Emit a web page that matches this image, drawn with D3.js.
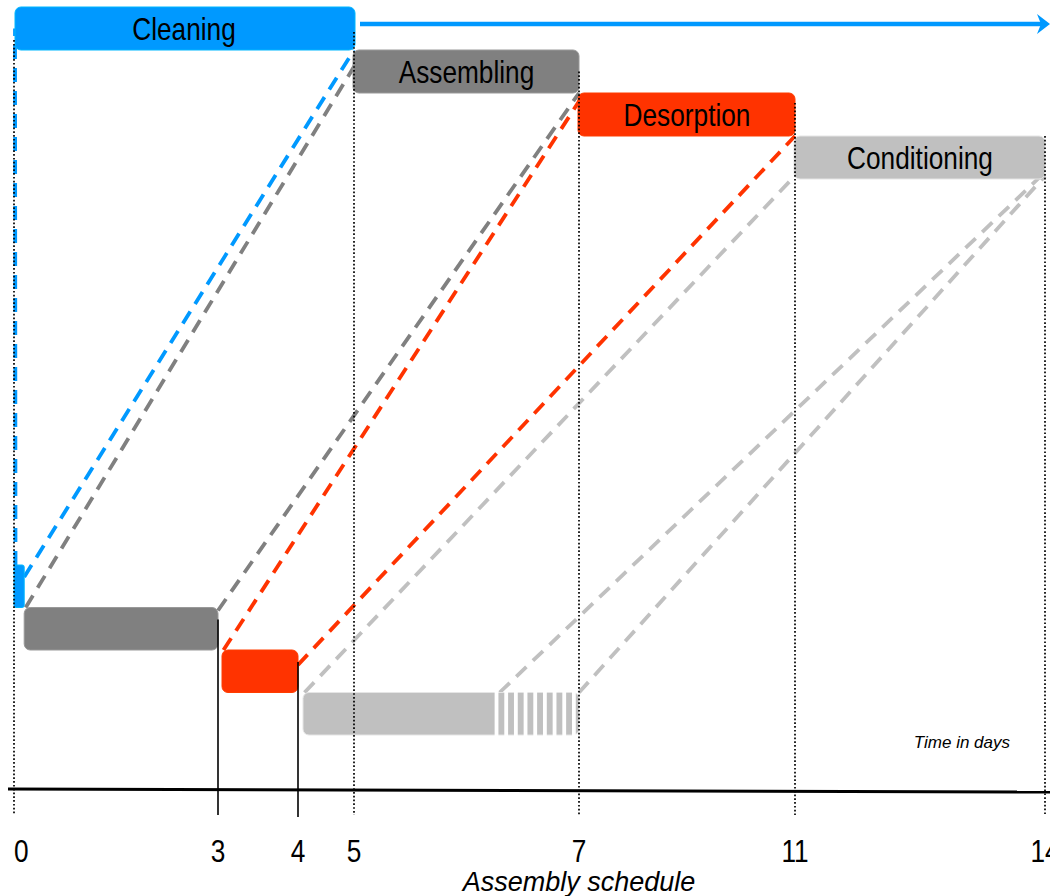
<!DOCTYPE html>
<html><head><meta charset="utf-8">
<script src="https://cdn.jsdelivr.net/npm/d3@7"></script>
<style>html,body{margin:0;padding:0;background:#fff;overflow:hidden}</style>
</head><body><svg id="chart" width="1050" height="896"></svg>
<script>
// ---------- data ----------
const tasks = ["Cleaning", "Assembling", "Desorption", "Conditioning"];
const taskColors = ["#0099FF", "#808080", "#FF3300", "#C0C0C0"];
const planStart = [0, 5, 7, 11];      // days (top, sequential plan)
const planEnd = [5, 7, 11, 14];
const actualStart = [0, 0.15, 3, 4];  // days (bottom, overlapped schedule)
const actualEnd = [0.15, 3, 4, 7];
const stripeStart = [null, null, null, 6.25];
const tickDays = [0, 3, 4, 5, 7, 11, 14];
const tickLabels = ["0", "3", "4", "5", "7", "11", "14"];
const solidTickDays = [3, 4];
// connectors: [task index, edge on schedule bar, edge on plan bar]
const links = [
  [0, "start", "start"], [0, "end", "end"],
  [1, "start", "start"], [1, "end", "end"],
  [2, "start", "start"], [2, "end", "end"],
  [3, "start", "start"], [3, "stripe", "end"], [3, "end", "end"]
];
const axisTitle = "Assembly schedule";
const unitNote = "Time in days";

// ---------- layout ----------
const W = 1050, H = 896;
const svg = d3.select("#chart");
const sans = "'Liberation Sans',Arial,sans-serif";
const squeeze = 0.82; // emulate a narrow face

const x = d3.scaleLinear().domain(tickDays).range([14, 218, 298, 354, 579, 795, 1045]);
const yTop = d3.scaleBand().domain(tasks).range([7, 179]);
const yBot = d3.scaleBand().domain(tasks).range([565, 735]);
const bandT = yTop.bandwidth(), bandB = yBot.bandwidth();
const botInset = [0, 0, 4, 5];
const linkFrac = [[0, 0.5], [0.28, 1], [0, 0.35], [0.07, 1], [0, 0.16], [0.35, 1], [0, 0.9], [0, 0.84], [0, 0.93]];
const dottedFrac = {0: [0, 0.77], 5: [0, 0.58], 7: [1, 0.5], 11: [2, 0.23], 14: [3, 0]};

function botX(i, edge) {
  if (edge === "start") return x(actualStart[i]) + botInset[i] + 1.5;
  if (edge === "stripe") return x(stripeStart[i]) + 5;
  return x(actualEnd[i]);
}
function topX(i, edge) {
  return edge === "start" ? x(planStart[i]) + 1 : x(planEnd[i]);
}

// connectors
svg.append("g").selectAll("line").data(links).join("line")
  .attr("x1", d => botX(d[0], d[1]))
  .attr("y1", (d, k) => yBot(tasks[d[0]]) + linkFrac[k][0] * bandB)
  .attr("x2", d => topX(d[0], d[2]))
  .attr("y2", (d, k) => yTop(tasks[d[0]]) + linkFrac[k][1] * bandT)
  .attr("stroke", d => taskColors[d[0]])
  .attr("stroke-width", 3.8)
  .attr("stroke-dasharray", "14 9");

// top arrow (overall duration)
const arrowY = yTop(tasks[0]) + 17;
svg.append("line")
  .attr("x1", x(5) + 6).attr("x2", W - 8)
  .attr("y1", arrowY).attr("y2", arrowY)
  .attr("stroke", taskColors[0]).attr("stroke-width", 4.5);
svg.append("path")
  .attr("d", `M${W - 13},${arrowY - 10} L${W},${arrowY} L${W - 13},${arrowY + 10} L${W - 9},${arrowY} Z`)
  .attr("fill", taskColors[0]);

// plan bars (top)
const gTop = svg.append("g");
gTop.selectAll("rect").data(tasks).join("rect")
  .attr("x", (d, i) => x(planStart[i]) + (i === 0 ? 1 : -1))
  .attr("width", (d, i) => x(planEnd[i]) - x(planStart[i]) + (i === 0 ? 0 : 1))
  .attr("y", d => yTop(d))
  .attr("height", bandT)
  .attr("rx", 6)
  .attr("fill", (d, i) => taskColors[i])
  .attr("stroke", (d, i) => d3.color(taskColors[i]).brighter(0.5))
  .attr("stroke-width", 1);
gTop.selectAll("text").data(tasks).join("text")
  .attr("transform", (d, i) => `translate(${(x(planStart[i]) + x(planEnd[i])) / 2},${yTop(d) + bandT / 2 + 11}) scale(${squeeze},1)`)
  .attr("text-anchor", "middle")
  .attr("font-family", sans)
  .attr("font-size", 32)
  .attr("fill", "#000")
  .text(d => d);

// schedule bars (bottom)
const gBot = svg.append("g");
gBot.selectAll("rect").data(tasks).join("rect")
  .attr("x", (d, i) => x(actualStart[i]) + botInset[i])
  .attr("width", (d, i) => x(actualEnd[i]) - x(actualStart[i]) - botInset[i])
  .attr("y", d => yBot(d))
  .attr("height", bandB)
  .attr("rx", (d, i) => i === 0 ? 2 : 6)
  .attr("fill", (d, i) => taskColors[i])
  .attr("stroke", (d, i) => d3.color(taskColors[i]).brighter(0.5))
  .attr("stroke-width", 1);

// hatched tail of the conditioning bar
tasks.forEach((t, i) => {
  if (stripeStart[i] == null) return;
  const x0 = x(stripeStart[i]), x1 = x(actualEnd[i]);
  const n = 9, gw = 3.8, sp = (x1 - x0 - 7) / (n - 1);
  gBot.append("g").selectAll("rect").data(d3.range(n)).join("rect")
    .attr("x", k => x0 + k * sp)
    .attr("width", gw)
    .attr("y", yBot(t) - 1)
    .attr("height", bandB + 2)
    .attr("fill", "#fff");
});

// vertical guide lines
const axisY = 790, guideEnd = 815;
const gGuides = svg.append("g");
tickDays.forEach(d => {
  if (solidTickDays.includes(d)) {
    const i = actualEnd.indexOf(d);
    gGuides.append("line")
      .attr("x1", x(d)).attr("x2", x(d))
      .attr("y1", yBot(tasks[i]) + 12).attr("y2", guideEnd + (i === 2 ? 2 : 0))
      .attr("stroke", "#000").attr("stroke-width", 1.6);
  } else {
    const f = dottedFrac[d];
    gGuides.append("line")
      .attr("x1", x(d)).attr("x2", x(d))
      .attr("y1", yTop(tasks[f[0]]) + f[1] * bandT).attr("y2", guideEnd)
      .attr("stroke", "#000").attr("stroke-width", 1.7)
      .attr("stroke-dasharray", "1.7 2.1");
  }
});

// time axis
svg.append("line")
  .attr("x1", 8).attr("x2", W)
  .attr("y1", axisY - 1).attr("y2", axisY + 2)
  .attr("stroke", "#000").attr("stroke-width", 3);

svg.append("g").selectAll("text").data(tickDays).join("text")
  .attr("transform", (d, i) => `translate(${x(d)},862) scale(${squeeze},1)`)
  .attr("text-anchor", (d, i) => i === 0 ? "start" : "middle")
  .attr("font-family", sans)
  .attr("font-size", 32)
  .attr("fill", "#000")
  .text((d, i) => tickLabels[i]);

svg.append("text")
  .attr("x", x(7)).attr("y", 891)
  .attr("text-anchor", "middle")
  .attr("font-family", sans)
  .attr("font-style", "italic")
  .attr("font-size", 27)
  .text(axisTitle);

svg.append("text")
  .attr("x", x(14) - 35).attr("y", 748)
  .attr("text-anchor", "end")
  .attr("font-family", sans)
  .attr("font-style", "italic")
  .attr("font-size", 17)
  .text(unitNote);
</script>
</body></html>
